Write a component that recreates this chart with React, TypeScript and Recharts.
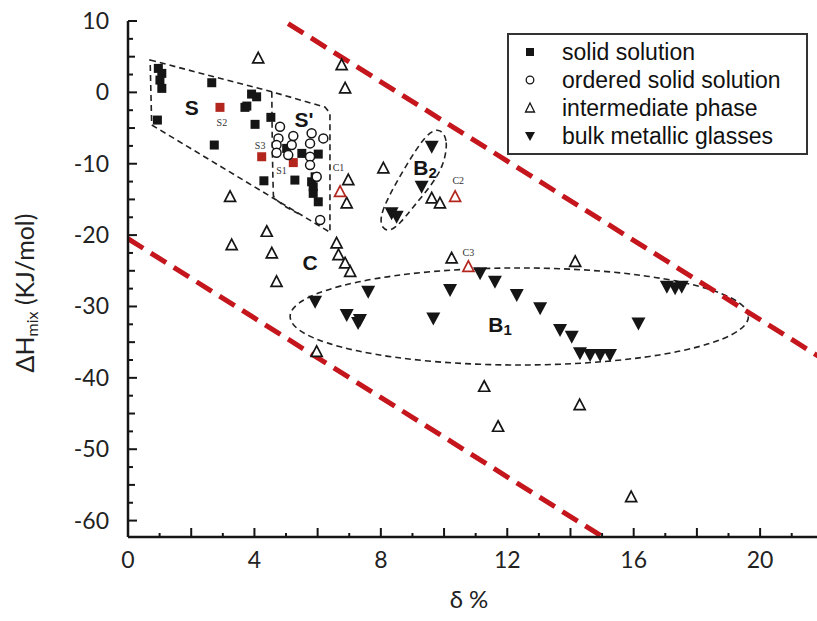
import React from 'react';
import { ScatterChart, Scatter, XAxis, YAxis, ReferenceLine, ReferenceArea } from 'recharts';

type Pt = { x: number; y: number };

// series names (legend)
const seriesNames = ['solid solution', 'ordered solid solution', 'intermediate phase', 'bulk metallic glasses'];

const solidSolution: Pt[] = [
  { x: 0.96, y: 3.36 }, { x: 1.07, y: 2.66 }, { x: 1.01, y: 1.72 }, { x: 1.07, y: 0.56 },
  { x: 0.93, y: -3.88 }, { x: 2.65, y: 1.35 }, { x: 2.73, y: -7.38 }, { x: 3.76, y: -1.92 },
  { x: 3.91, y: -0.24 }, { x: 4.07, y: -0.62 }, { x: 3.7, y: -2.1 }, { x: 4.02, y: -4.48 },
  { x: 4.52, y: -3.5 }, { x: 4.3, y: -12.39 }, { x: 5.28, y: -12.29 }, { x: 5.02, y: -7.85 },
  { x: 5.5, y: -8.55 }, { x: 6.02, y: -8.65 }, { x: 5.81, y: -12.53 }, { x: 5.86, y: -13.23 },
  { x: 5.86, y: -14.15 }, { x: 6.02, y: -15.33 }, { x: 5.92, y: -11.83 },
];
const solidSolutionMarked: Pt[] = [
  { x: 2.91, y: -2.1 }, { x: 4.23, y: -9.02 }, { x: 5.23, y: -9.84 },
];
const orderedSolid: Pt[] = [
  { x: 4.81, y: -4.82 }, { x: 5.23, y: -6.12 }, { x: 4.76, y: -6.45 }, { x: 5.81, y: -5.74 },
  { x: 6.18, y: -6.45 }, { x: 4.7, y: -7.38 }, { x: 5.18, y: -7.38 }, { x: 5.76, y: -7.15 },
  { x: 4.7, y: -8.46 }, { x: 5.07, y: -8.79 }, { x: 5.76, y: -9.02 }, { x: 5.76, y: -10.19 },
  { x: 5.97, y: -11.83 }, { x: 6.08, y: -17.89 },
];
const intermediate: Pt[] = [
  { x: 4.12, y: 4.76 }, { x: 6.76, y: 3.83 }, { x: 6.87, y: 0.56 }, { x: 6.97, y: -12.29 },
  { x: 6.92, y: -15.55 }, { x: 3.23, y: -14.63 }, { x: 4.39, y: -19.53 }, { x: 4.55, y: -22.56 },
  { x: 4.7, y: -26.54 }, { x: 3.28, y: -21.4 }, { x: 6.6, y: -21.16 }, { x: 6.66, y: -22.8 },
  { x: 6.87, y: -23.96 }, { x: 7.03, y: -25.14 }, { x: 8.08, y: -10.65 }, { x: 9.61, y: -14.85 },
  { x: 9.87, y: -15.55 }, { x: 10.24, y: -23.26 }, { x: 14.15, y: -23.74 }, { x: 5.97, y: -36.35 },
  { x: 11.27, y: -41.25 }, { x: 14.29, y: -43.81 }, { x: 11.71, y: -46.85 }, { x: 15.92, y: -56.7 },
];
const intermediateMarked: Pt[] = [
  { x: 6.71, y: -13.93 }, { x: 10.35, y: -14.63 }, { x: 10.77, y: -24.44 },
];
const bulkGlasses: Pt[] = [
  { x: 9.61, y: -7.62 }, { x: 9.29, y: -13.23 }, { x: 8.34, y: -16.95 }, { x: 8.5, y: -17.43 },
  { x: 7.6, y: -27.94 }, { x: 10.19, y: -27.7 }, { x: 5.92, y: -29.34 }, { x: 6.92, y: -31.2 },
  { x: 7.34, y: -31.9 }, { x: 7.28, y: -32.33 }, { x: 9.66, y: -31.67 }, { x: 11.14, y: -25.36 },
  { x: 11.61, y: -26.54 }, { x: 12.3, y: -28.4 }, { x: 13.04, y: -30.26 }, { x: 13.67, y: -33.31 },
  { x: 14.04, y: -34.24 }, { x: 14.3, y: -36.57 }, { x: 14.62, y: -36.81 }, { x: 14.94, y: -36.81 },
  { x: 15.25, y: -36.81 }, { x: 16.15, y: -32.37 }, { x: 17.05, y: -27.24 }, { x: 17.31, y: -27.46 },
  { x: 17.52, y: -27.24 },
];

// dashed outlines of the regions
const regionS: Pt[] = [
  { x: 0.7, y: 4.53 }, { x: 4.55, y: 0.08 }, { x: 6.23, y: -2.06 }, { x: 6.39, y: -2.9 },
  { x: 6.39, y: -19.6 }, { x: 0.75, y: -4.57 },
];
const regionSplit: Pt[] = [
  { x: 4.55, y: 0.08 }, { x: 4.6, y: -14.4 }, { x: 4.85, y: -15.6 }, { x: 5.4, y: -17.0 },
];
const regionB2: Pt[] = [
  { x: 9.87, y: -5.04 }, { x: 10.14, y: -6.68 }, { x: 9.98, y: -10.42 }, { x: 9.56, y: -13.23 },
  { x: 9.03, y: -16.03 }, { x: 8.61, y: -18.36 }, { x: 8.29, y: -19.53 }, { x: 8.03, y: -19.06 },
  { x: 7.97, y: -17.43 }, { x: 8.24, y: -14.63 }, { x: 8.71, y: -10.89 }, { x: 9.24, y: -7.15 },
  { x: 9.56, y: -5.52 },
];
const regionB1 = { x1: 5.13, x2: 19.63, y1: -38.2, y2: -24.6 };

// red bounds
const upperBound: Pt[] = [{ x: 0, y: 23.7 }, { x: 22, y: -37.4 }];
const lowerBound: Pt[] = [{ x: 0, y: -20.5 }, { x: 16, y: -65 }];

const regionLabels = [
  { x: 2.02, y: -2.24, text: 'S', sub: '' },
  { x: 5.57, y: -3.88, text: "S'", sub: '' },
  { x: 5.76, y: -23.96, text: 'C', sub: '' },
  { x: 9.4, y: -10.65, text: 'B', sub: '2' },
  { x: 11.77, y: -32.61, text: 'B', sub: '1' },
];
const pointLabels = [
  { x: 2.97, y: -4.12, text: 'S2' },
  { x: 4.18, y: -7.38, text: 'S3' },
  { x: 4.86, y: -10.89, text: 'S1' },
  { x: 6.66, y: -10.42, text: 'C1' },
  { x: 10.45, y: -12.29, text: 'C2' },
  { x: 10.77, y: -22.33, text: 'C3' },
];

const xTicks = [0, 1, 2, 3, 4, 5, 6, 7, 8, 9, 10, 11, 12, 13, 14, 15, 16, 17, 18, 19, 20, 21];
const yTicks = [10, 7.5, 5, 2.5, 0, -2.5, -5, -7.5, -10, -12.5, -15, -17.5, -20, -22.5, -25, -27.5,
  -30, -32.5, -35, -37.5, -40, -42.5, -45, -47.5, -50, -52.5, -55, -57.5, -60];

const INK = '#151515';
const RED = '#c4161c';
const MARK = '#b3261e';
const FONT = 'Lato, "Open Sans", sans-serif';

const XTick = (props: any) => {
  const { x, y, payload } = props;
  const v = payload.value;
  const len = v % 2 === 0 ? 9 : 4;
  return (
    <g>
      <line x1={x} y1={y} x2={x} y2={y - len} stroke={INK} strokeWidth={2} />
      {v % 4 === 0 && (
        <text x={x} y={y + 31} textAnchor="middle" fontSize={23} fontFamily={FONT} fill="#222">{v}</text>
      )}
    </g>
  );
};

const YTick = (props: any) => {
  const { x, y, payload } = props;
  const v = payload.value;
  const major = v % 10 === 0;
  const len = major ? 9 : v % 5 === 0 ? 7 : 5;
  return (
    <g>
      <line x1={x} y1={y} x2={x + len} y2={y} stroke={INK} strokeWidth={2} />
      {major && (
        <text x={x - 19} y={y + 8} textAnchor="end" fontSize={23} fontFamily={FONT} fill="#222">{v}</text>
      )}
    </g>
  );
};

const square = (fill: string) => (p: any) => (
  <rect x={p.cx - 4.5} y={p.cy - 4.5} width={9} height={9} fill={fill} />
);
const circle = (p: any) => (
  <circle cx={p.cx} cy={p.cy} r={4.5} fill="#fff" stroke={INK} strokeWidth={1.5} />
);
const triangle = (stroke: string) => (p: any) => (
  <polygon
    points={`${p.cx},${p.cy - 6} ${p.cx + 5.5},${p.cy + 4.5} ${p.cx - 5.5},${p.cy + 4.5}`}
    fill="#fff"
    stroke={stroke}
    strokeWidth={1.7}
  />
);
const downTriangle = (p: any) => (
  <polygon points={`${p.cx - 7},${p.cy - 6} ${p.cx + 7},${p.cy - 6} ${p.cx},${p.cy + 7}`} fill={INK} />
);
const none = () => <g />;

const regionText = (p: any) => {
  const d = p.payload;
  return (
    <text x={p.cx} y={p.cy + 7} textAnchor="middle" fontSize={21} fontWeight="bold"
      fontFamily='"Liberation Sans", Arial, sans-serif' fill={INK}>
      {d.text}
      {d.sub && <tspan fontSize={15} dy={3}>{d.sub}</tspan>}
    </text>
  );
};
const pointText = (p: any) => (
  <text x={p.cx} y={p.cy + 4} textAnchor="middle" fontSize={10} fontFamily='"Liberation Serif", serif' fill="#333">
    {p.payload.text}
  </text>
);

const dashed = { stroke: '#222', strokeWidth: 1.6, strokeDasharray: '6 4' };

const YTitle = () => (
  <text x={34} y={293} transform="rotate(-90, 34, 293)" textAnchor="middle" fontSize={25} fontFamily={FONT} fill="#222">
    ΔH<tspan fontSize={16} dy={4}>mix</tspan><tspan dy={-4}>{'  (KJ/mol)'}</tspan>
  </text>
);
const XTitle = () => (
  <text x={469} y={608} textAnchor="middle" fontSize={24} fontFamily={FONT} fill="#222">δ %</text>
);

const legendSymbols = [
  <rect x={4} y={4} width={8} height={8} fill={INK} />,
  <circle cx={8} cy={8} r={3.8} fill="none" stroke={INK} strokeWidth={1.3} />,
  <polygon points="8,3 12.5,12 3.5,12" fill="none" stroke={INK} strokeWidth={1.3} />,
  <polygon points="3,4 13,4 8,13" fill={INK} />,
];

const App: React.FC = () => {
  return (
    <div style={{ position: 'absolute', left: 0, top: 0, width: 817, height: 621, background: '#fff' }}>
      <ScatterChart width={817} height={621} margin={{ top: 21, right: 0, bottom: 0, left: 0 }}>
        <XAxis
          type="number"
          dataKey="x"
          domain={[0, 21.8]}
          allowDataOverflow
          ticks={xTicks}
          interval={0}
          height={84}
          tickSize={0}
          tickMargin={0}
          tickLine={false}
          tick={<XTick />}
          axisLine={{ stroke: INK, strokeWidth: 2.5 }}
          label={<XTitle />}
        />
        <YAxis
          type="number"
          dataKey="y"
          domain={[-62.3, 10]}
          allowDataOverflow
          ticks={yTicks}
          interval={0}
          width={128}
          tickSize={0}
          tickMargin={0}
          tickLine={false}
          tick={<YTick />}
          axisLine={{ stroke: INK, strokeWidth: 2.5 }}
          label={<YTitle />}
        />
        <ReferenceLine segment={upperBound} stroke={RED} strokeWidth={5} strokeDasharray="18 9" ifOverflow="hidden" />
        <ReferenceLine segment={lowerBound} stroke={RED} strokeWidth={5} strokeDasharray="18 9" ifOverflow="hidden" />
        <ReferenceArea
          x1={regionB1.x1}
          x2={regionB1.x2}
          y1={regionB1.y1}
          y2={regionB1.y2}
          shape={(p: any) => (
            <ellipse cx={p.x + p.width / 2} cy={p.y + p.height / 2} rx={p.width / 2} ry={p.height / 2}
              fill="none" {...dashed} />
          )}
        />
        <Scatter data={regionS} line={dashed} lineJointType="linearClosed" shape={none} legendType="none" isAnimationActive={false} />
        <Scatter data={regionSplit} line={dashed} lineJointType="monotoneY" shape={none} legendType="none" isAnimationActive={false} />
        <Scatter data={regionB2} line={dashed} lineJointType="basisClosed" shape={none} legendType="none" isAnimationActive={false} />

        <Scatter name={seriesNames[2]} data={intermediate} shape={triangle(INK)} isAnimationActive={false} />
        <Scatter data={intermediateMarked} shape={triangle(MARK)} legendType="none" isAnimationActive={false} />
        <Scatter name={seriesNames[0]} data={solidSolution} shape={square(INK)} isAnimationActive={false} />
        <Scatter data={solidSolutionMarked} shape={square(MARK)} legendType="none" isAnimationActive={false} />
        <Scatter name={seriesNames[1]} data={orderedSolid} shape={circle} isAnimationActive={false} />
        <Scatter name={seriesNames[3]} data={bulkGlasses} shape={downTriangle} isAnimationActive={false} />

        <Scatter data={regionLabels} shape={regionText} legendType="none" isAnimationActive={false} />
        <Scatter data={pointLabels} shape={pointText} legendType="none" isAnimationActive={false} />
      </ScatterChart>

      <div
        style={{
          position: 'absolute', left: 507, top: 33, width: 301, height: 122, boxSizing: 'border-box',
          border: '2px solid #333', background: '#fff',
          fontFamily: '"Liberation Sans", Arial, sans-serif', fontSize: 23, color: '#111',
        }}
      >
        {seriesNames.map((name, i) => (
          <div key={name} style={{ position: 'absolute', left: 13, top: 3 + i * 28, height: 28, display: 'flex', alignItems: 'center' }}>
            <svg width={16} height={16} style={{ marginRight: 24 }}>{legendSymbols[i]}</svg>
            <span>{name}</span>
          </div>
        ))}
      </div>
    </div>
  );
};

export default App;
